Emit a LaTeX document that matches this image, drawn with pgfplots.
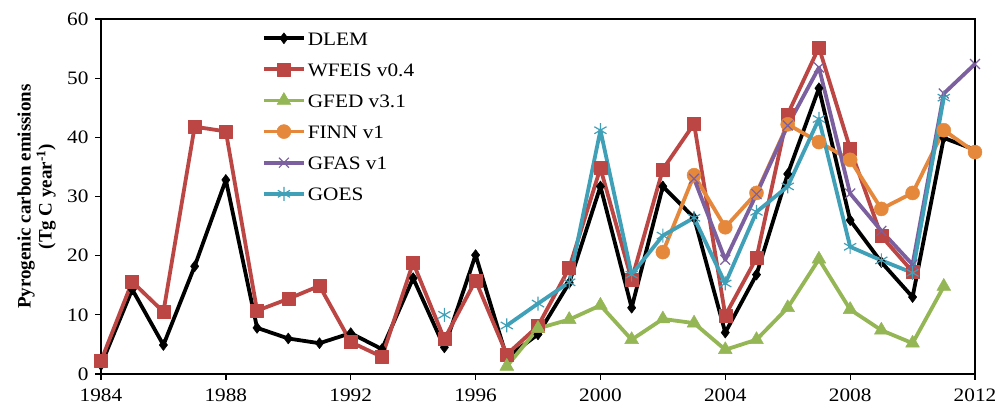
\documentclass[border=0pt]{standalone}
\usepackage{pgfplots}
\pgfplotsset{compat=1.18}
\usepackage{fontspec}
\setmainfont{Liberation Serif}
\usepackage{graphicx}
\newcommand\sx[1]{\scalebox{1.12}[1]{#1}}
\newcommand\lx[1]{\raisebox{5.2pt}{\sx{#1}}\rule{0pt}{25.6pt}}
\definecolor{cred}{HTML}{BB4643}
\definecolor{cgreen}{HTML}{94B654}
\definecolor{corange}{HTML}{E6883C}
\definecolor{cpurple}{HTML}{7B5F9F}
\definecolor{ccyan}{HTML}{3FA0B8}
\begin{document}
\begin{tikzpicture}
\begin{axis}[
 at={(101pt,30pt)}, anchor=south west, scale only axis, width=874pt, height=355pt,
 xmin=1984, xmax=2012, ymin=0, ymax=60,
 xtick={1984,1988,...,2012},
 xticklabels={\sx{1984},\sx{1988},\sx{1992},\sx{1996},\sx{2000},\sx{2004},\sx{2008},\sx{2012}},
 ytick={0,10,...,60},
 yticklabels={\sx{0},\sx{10},\sx{20},\sx{30},\sx{40},\sx{50},\sx{60}},
 tick align=outside, tick pos=left, major tick length=6pt,
 axis line style={line width=1.3pt},
 every tick/.style={black, line width=1.3pt},
 clip=false, unbounded coords=jump,
 tick label style={font=\fontsize{19}{21}\selectfont},
 xticklabel style={yshift=-5pt},
 yticklabel style={xshift=-3pt},
 ylabel={Pyrogenic carbon emissions\\(Tg C year\textsuperscript{-1})},
 ylabel style={at={(axis description cs:-0.0515,0.5)}, anchor=south, align=center, font=\bfseries\fontsize{19}{21}\selectfont, inner sep=0pt},
 legend style={at={(axis description cs:0.184,0.99)}, anchor=north west, draw=none, fill=none,
   font=\fontsize{19}{21}\selectfont, inner xsep=0pt, inner ysep=0pt},
 legend cell align=left,
 legend image code/.code={\draw[mark repeat=2,mark phase=2] plot coordinates {(0pt,0pt) (20pt,0pt) (40pt,0pt)};},
 every axis plot/.append style={line width=3.8pt, line join=round},
]
\addplot[black, mark=diamond*, mark size=5.5pt, mark options={solid, line width=0.5pt}] coordinates {
(1984,1.5)(1985,14.3)(1986,4.9)(1987,18.2)(1988,32.8)(1989,7.8)(1990,6.0)(1991,5.2)(1992,6.9)(1993,4.2)(1994,16.2)(1995,4.5)(1996,20.1)(1997,2.8)(1998,6.7)(1999,15.4)(2000,31.7)(2001,11.2)(2002,31.7)(2003,26.4)(2004,7.0)(2005,16.8)(2006,33.8)(2007,48.3)(2008,26.0)(2009,18.9)(2010,13.0)(2011,39.9)(2012,37.9)};
\addlegendentry{\lx{DLEM}}
\addplot[cred, mark=square*, mark size=6.5pt, mark options={solid, line width=0.5pt}] coordinates {
(1984,2.2)(1985,15.6)(1986,10.5)(1987,41.8)(1988,41.0)(1989,10.7)(1990,12.7)(1991,14.9)(1992,5.4)(1993,2.9)(1994,18.8)(1995,5.9)(1996,15.8)(1997,3.3)(1998,8.1)(1999,17.9)(2000,34.8)(2001,15.9)(2002,34.6)(2003,42.3)(2004,9.9)(2005,19.6)(2006,43.9)(2007,55.2)(2008,38.1)(2009,23.3)(2010,17.3)};
\addlegendentry{\lx{WFEIS v0.4}}
\addplot[cgreen, mark=triangle*, mark size=8pt, mark options={solid, line width=0.5pt}] coordinates {
(1997,1.3)(1998,7.7)(1999,9.2)(2000,11.6)(2001,5.8)(2002,9.3)(2003,8.6)(2004,4.1)(2005,5.8)(2006,11.2)(2007,19.4)(2008,10.9)(2009,7.4)(2010,5.2)(2011,14.8)};
\addlegendentry{\lx{GFED v3.1}}
\addplot[corange, mark=*, mark size=7pt, mark options={solid, line width=0.5pt}] coordinates {
(2002,20.6)(2003,33.6)(2004,24.8)(2005,30.6)(2006,42.2)(2007,39.2)(2008,36.2)(2009,27.9)(2010,30.6)(2011,41.2)(2012,37.5)};
\addlegendentry{\lx{FINN v1}}
\addplot[cpurple, mark=x, mark size=7pt, mark options={solid, line width=1.2pt}] coordinates {
(2003,33.0)(2004,19.3)(2005,30.4)(2006,42.0)(2007,51.8)(2008,30.5)(2009,24.2)(2010,18.5)(2011,47.4)(2012,52.4)};
\addlegendentry{\lx{GFAS v1}}
\addplot[ccyan, mark=asterisk, mark size=7pt, mark options={solid, line width=1.2pt}] coordinates {
(1995,10.0)(1996,nan)(1997,8.2)(1998,11.9)(1999,15.5)(2000,41.2)(2001,16.8)(2002,23.4)(2003,26.4)(2004,15.3)(2005,27.4)(2006,31.7)(2007,43.1)(2008,21.5)(2009,19.2)(2010,17.1)(2011,46.7)};
\addlegendentry{\lx{GOES}}
\end{axis}
\pgfresetboundingbox
\path[use as bounding box] (0pt,0pt) rectangle (1005pt,404pt);
\end{tikzpicture}
\end{document}
